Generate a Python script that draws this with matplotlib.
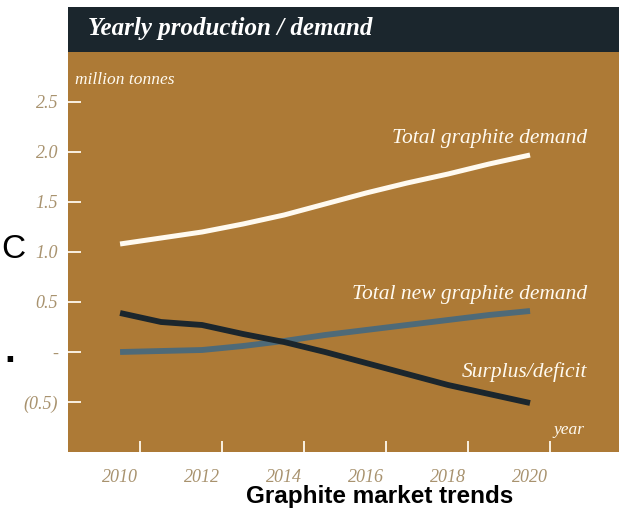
import numpy as np
from matplotlib import pyplot as plt
from matplotlib.patches import Rectangle

plt.rcParams['font.family'] = ['Liberation Serif', 'DejaVu Serif']

# values (million tonnes)
years = [2010, 2011, 2012, 2013, 2014, 2015, 2016, 2017, 2018, 2019, 2020]
total_demand = [1.08, 1.14, 1.20, 1.28, 1.37, 1.48, 1.59, 1.69, 1.78, 1.88, 1.97]
new_demand = [0.00, 0.01, 0.02, 0.06, 0.11, 0.17, 0.22, 0.27, 0.32, 0.37, 0.41]
surplus = [0.39, 0.30, 0.27, 0.18, 0.10, 0.00, -0.11, -0.22, -0.33, -0.42, -0.51]

year_labels = [2010, 2012, 2014, 2016, 2018, 2020]
y_ticks = [2.5, 2.0, 1.5, 1.0, 0.5, 0.0, -0.5]
y_tick_labels = ['2.5', '2.0', '1.5', '1.0', '0.5', '-', '(0.5)']

brown = '#ad7a36'
navy = '#1b262d'
slate = '#4e6a78'
cream = '#fffaf0'
label_col = '#a8926e'

W, H = 619, 509
fig = plt.figure(figsize=(W / 100, H / 100), dpi=100)

# header bar
fig.patches.append(Rectangle((68 / W, (H - 52) / H), 1 - 68 / W, 45 / H,
                             transform=fig.transFigure, facecolor=navy,
                             edgecolor='none', zorder=0))
fig.text(88 / W, (H - 29) / H, 'Yearly production / demand', color='white',
         fontsize=18, fontweight='bold', style='italic', va='center', ha='left')

ax = fig.add_axes([68 / W, (H - 452) / H, 1 - 68 / W, 400 / H])
ax.set_facecolor(brown)
for s in ax.spines.values():
    s.set_visible(False)

ax.plot(years, total_demand, color=cream, lw=3.6, solid_capstyle='butt')
ax.plot(years, new_demand, color=slate, lw=4.2, solid_capstyle='butt')
ax.plot(years, surplus, color=navy, lw=4.2, solid_capstyle='butt')

ax.set_xlim(2008.73, 2022.17)
ax.set_ylim(-1, 3)

# y axis
ax.set_yticks(y_ticks)
ax.set_yticklabels(y_tick_labels)
ax.tick_params(axis='y', direction='in', length=9, width=1.3, color=cream,
               pad=7, labelsize=13, labelcolor=label_col)

# x axis: labels on the years, tick marks offset half a year
ax.set_xticks(year_labels)
ax.set_xticklabels([str(y) for y in year_labels])
ax.tick_params(axis='x', which='major', length=0, pad=12, labelsize=13,
               labelcolor=label_col)
ax.set_xticks([y + 0.48 for y in year_labels], minor=True)
ax.tick_params(axis='x', which='minor', direction='in', length=8, width=1.3,
               color=cream)
for lab in ax.get_xticklabels() + ax.get_yticklabels():
    lab.set_style('italic')

# series labels
lab_kw = dict(color=cream, fontsize=15.5, style='italic', ha='right', va='center')
ax.text(2021.39, 2.14, 'Total graphite demand', **lab_kw)
ax.text(2021.39, 0.57, 'Total new graphite demand', **lab_kw)
ax.text(2021.39, -0.20, 'Surplus/deficit', **lab_kw)

ax.text(0.013, 0.93, 'million tonnes', transform=ax.transAxes, color=cream,
        fontsize=12.5, style='italic', ha='left', va='center')
ax.text(0.938, 0.055, 'year', transform=ax.transAxes, color=cream,
        fontsize=12.5, style='italic', ha='right', va='center')

# caption and fragments at the left edge
fig.text(380 / W, (H - 497) / H, 'Graphite market trends', family='Liberation Sans',
         fontweight='bold', fontsize=17.5, ha='center', va='center', color='black')
fig.text(1 / W, (H - 249) / H, 'C', family='Liberation Sans', fontsize=24,
         ha='left', va='center', color='black')
fig.text(4 / W, (H - 362) / H, '.', family='Liberation Sans', fontsize=28,
         fontweight='bold', ha='left', va='baseline', color='black')

plt.savefig('out.png', dpi=100)
